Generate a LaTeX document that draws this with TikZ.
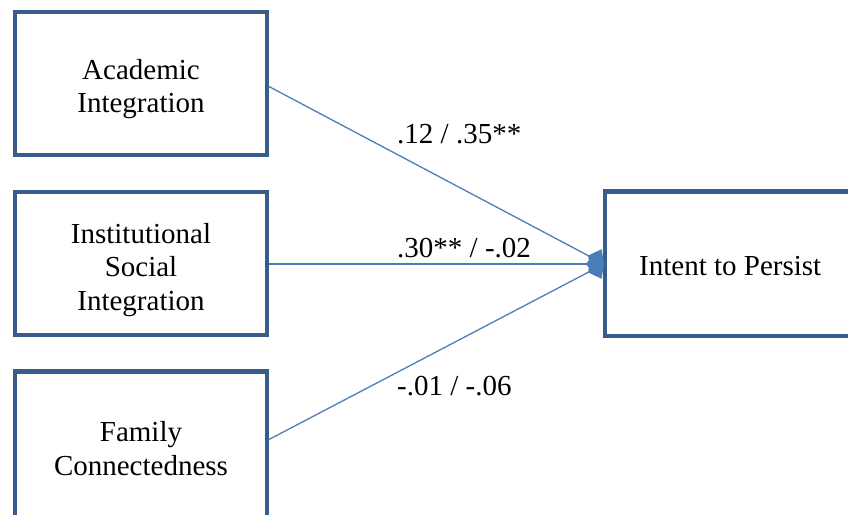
\documentclass[tikz,border=0pt]{standalone}
\usepackage{fontspec}
\setmainfont{Liberation Serif}
\usetikzlibrary{arrows.meta}
\definecolor{boxblue}{RGB}{56,93,138}
\definecolor{lineblue}{RGB}{74,126,187}
\tikzset{
  varbox/.style={draw=boxblue, line width=4.6pt, rectangle, minimum width=252pt, minimum height=143pt, inner sep=0pt},
  boxtext/.style={align=center, inner sep=0pt, font=\fontsize{29}{33.5}\selectfont},
  path/.style={draw=lineblue, line width=1.3pt, -{Diamond[length=18pt,width=24pt]}},
  coef/.style={anchor=base west, inner sep=0pt, font=\fontsize{29}{33.5}\selectfont}
}
\begin{document}
\begin{tikzpicture}[x=1pt,y=-1pt]
\useasboundingbox (0,0) rectangle (848,514);
\node[varbox] (acad) at (141,83.5) {};
\node[boxtext] (acadtext) at (141,89) {Academic\\Integration};
\node[varbox] (inst) at (141,263.5) {};
\node[boxtext] (insttext) at (141,270) {Institutional\\Social\\Integration};
\node[varbox, minimum height=170pt] (fam) at (141,456.5) {};
\node[boxtext] (famtext) at (141,448.5) {Family\\Connectedness};
\node[varbox, minimum height=144.5pt] (intent) at (731,263.8) {};
\node[anchor=base west, inner sep=0pt, font=\fontsize{29}{33.5}\selectfont] (intentlabel) at (639,275) {Intent to Persist};
\coordinate (tip) at (604,264);
\coordinate (a0) at (268,86);
\coordinate (f0) at (268,440);
\draw[path] (a0) -- (tip);
\draw[path] (inst.east |- tip) -- (tip);
\draw[path] (f0) -- (tip);
\node[coef] (c1) at (397,143) {.12 / .35**};
\node[coef] (c2) at (397,257) {.30** / -.02};
\node[coef] (c3) at (397,395) {-.01 / -.06};
\end{tikzpicture}
\end{document}
